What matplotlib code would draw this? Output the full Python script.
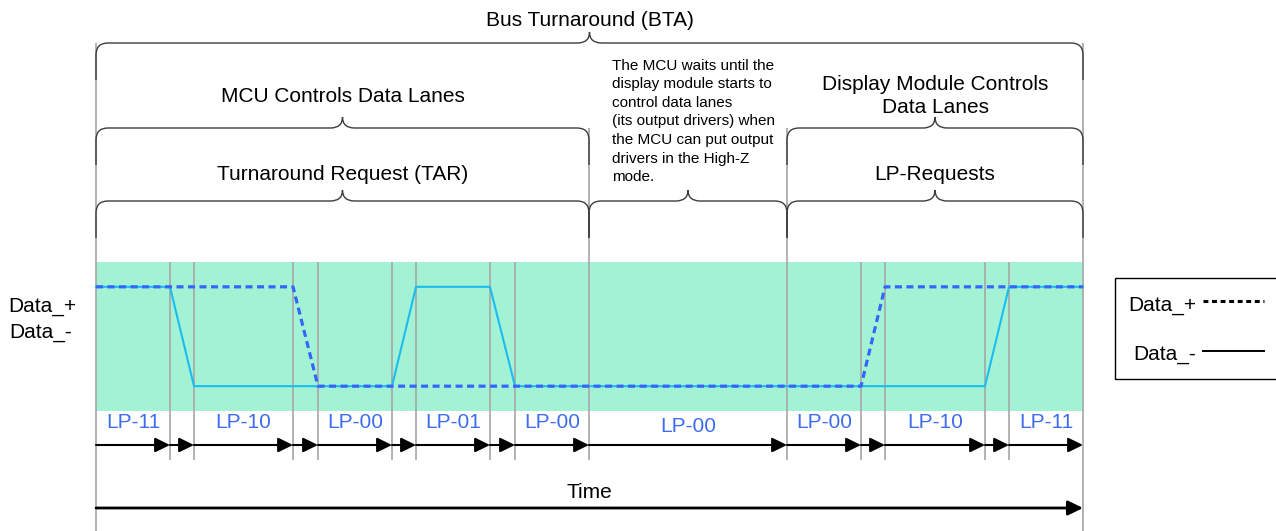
import matplotlib
matplotlib.use('Agg')
import matplotlib.pyplot as plt
from matplotlib.path import Path
from matplotlib.patches import PathPatch
from matplotlib.lines import Line2D

plt.rcParams['font.family'] = ['Liberation Sans', 'DejaVu Sans']

# time axis (diagram units) : boundaries of every lane state / transition
edges = [0, 74, 98, 197, 222, 296, 320, 394, 419, 493, 691, 765, 789, 889, 913, 987]
# state of each interval between edges (None = transition)
states = ['LP-11', None, 'LP-10', None, 'LP-00', None, 'LP-01', None,
          'LP-00', 'LP-00', 'LP-00', None, 'LP-10', None, 'LP-11']

# phases: (label, first edge index, last edge index, row)
phases = [
    ('Bus Turnaround (BTA)', 0, 15, 0),
    ('MCU Controls Data Lanes', 0, 9, 1),
    ('Display Module Controls\nData Lanes', 10, 15, 1),
    ('Turnaround Request (TAR)', 0, 9, 2),
    ('', 9, 10, 2),
    ('LP-Requests', 10, 15, 2),
]
wait_note = ('The MCU waits until the\ndisplay module starts to\ncontrol data lanes\n'
             '(its output drivers) when\nthe MCU can put output\ndrivers in the High-Z\nmode.')

# Data_+ is the first digit of the LP state, Data_- the second
t_pts, dp, dm = [], [], []
for i, s in enumerate(states):
    if s is None:
        continue
    for t in (edges[i], edges[i + 1]):
        t_pts.append(t)
        dp.append(int(s[3]))
        dm.append(int(s[4]))

# layout (pixel rows of the drawing)
brace_y = [43, 128, 201]
label_y = [20, 96, 175]
BAND_TOP, BAND_BOT = 262, 411
LP_Y, ARROW_Y, TICK_BOT, TIME_Y = 423, 445, 460, 508

GRAY = '#a6a6a6'
BRACE = '#3c3c3c'
BLUE = '#3366ff'
CYAN = '#1bbcf0'
LPBLUE = '#3d6cf2'

fig = plt.figure(figsize=(12.76, 5.31), dpi=100)
ax = fig.add_axes([0, 0, 1, 1])
ax.set_xlim(-96, 1180)
ax.set_ylim(531, 0)
ax.axis('off')

# green band
ax.fill_between([edges[0], edges[-1]], BAND_TOP, BAND_BOT, color='#a4f2d4', lw=0, zorder=0)

# gray boundary lines
for i, e in enumerate(edges):
    if i in (0, len(edges) - 1):
        ax.vlines(e, brace_y[0], 531, color=GRAY, lw=1.2, zorder=1)
    elif i in (9, 10):
        ax.vlines(e, brace_y[1], TICK_BOT, color=GRAY, lw=1.2, zorder=1)
    else:
        ax.vlines(e, BAND_TOP, TICK_BOT, color=GRAY, lw=1.2, zorder=1)


def brace(x0, x1, y, leg=37, r=12, tip=11):
    xc = (x0 + x1) / 2
    verts = [(x0, y + leg), (x0, y + r), (x0, y), (x0 + r, y), (xc - r, y), (xc, y), (xc, y - tip),
             (xc, y), (xc + r, y), (x1 - r, y), (x1, y), (x1, y + r), (x1, y + leg)]
    codes = [Path.MOVETO, Path.LINETO, Path.CURVE3, Path.CURVE3, Path.LINETO, Path.CURVE3, Path.CURVE3,
             Path.CURVE3, Path.CURVE3, Path.LINETO, Path.CURVE3, Path.CURVE3, Path.LINETO]
    ax.add_patch(PathPatch(Path(verts, codes), fc='none', ec=BRACE, lw=1.0, zorder=2))


for label, a, b, row in phases:
    brace(edges[a], edges[b], brace_y[row])
    if label:
        ax.text((edges[a] + edges[b]) / 2, label_y[row], label, ha='center', va='center',
                fontsize=15, linespacing=1.32)

ax.text(edges[9] + 23, 121.5, wait_note, ha='left', va='center', fontsize=11, linespacing=1.41)

# state labels and arrows
for i, s in enumerate(states):
    a, b = edges[i], edges[i + 1]
    if s is not None:
        yy = LP_Y + (4 if i == 9 else 0)
        ax.text((a + b) / 2, yy, s, ha='center', va='center', fontsize=15, color=LPBLUE)
    ax.annotate('', xy=(b, ARROW_Y), xytext=(a, ARROW_Y),
                arrowprops=dict(arrowstyle='-|>,head_length=0.45,head_width=0.22', color='black',
                                lw=1.5, mutation_scale=20, shrinkA=0, shrinkB=0), zorder=3)

ax.annotate('', xy=(edges[-1], TIME_Y), xytext=(edges[0], TIME_Y),
            arrowprops=dict(arrowstyle='-|>,head_length=0.45,head_width=0.22', color='black',
                            lw=2.0, mutation_scale=20, shrinkA=0, shrinkB=0))
ax.text((edges[0] + edges[-1]) / 2, 492, 'Time', ha='center', va='center', fontsize=15)

ax.text(-54, 307, 'Data_+', ha='center', va='center', fontsize=15)
ax.text(-55, 332, 'Data_-', ha='center', va='center', fontsize=15)

# signals
ax_sig = fig.add_axes([0, (531 - BAND_BOT) / 531, 1, (BAND_BOT - BAND_TOP) / 531])
ax_sig.set_xlim(-96, 1180)
ax_sig.set_ylim(-0.25, 1.25)
ax_sig.axis('off')
ax_sig.patch.set_alpha(0)
ax_sig.plot(t_pts, dm, color=CYAN, lw=1.5)
ax_sig.plot(t_pts, dp, color=BLUE, lw=2.3, dashes=(2.2, 1.4))

handles = [Line2D([], [], color='black', lw=2.2, dashes=(1.6, 1.2)),
           Line2D([], [], color='black', lw=1.4)]
leg = ax.legend(handles, ['Data_+', 'Data_-'], loc='center', bbox_to_anchor=(1100, 328.5),
                bbox_transform=ax.transData, markerfirst=False, fontsize=15, frameon=True,
                fancybox=False, framealpha=1, edgecolor='black', handlelength=2.9,
                handleheight=1.36, handletextpad=0.35, labelspacing=1.25, borderpad=0.65,
                borderaxespad=0)
leg.get_frame().set_linewidth(1.0)

fig.savefig('out.png', dpi=100)
